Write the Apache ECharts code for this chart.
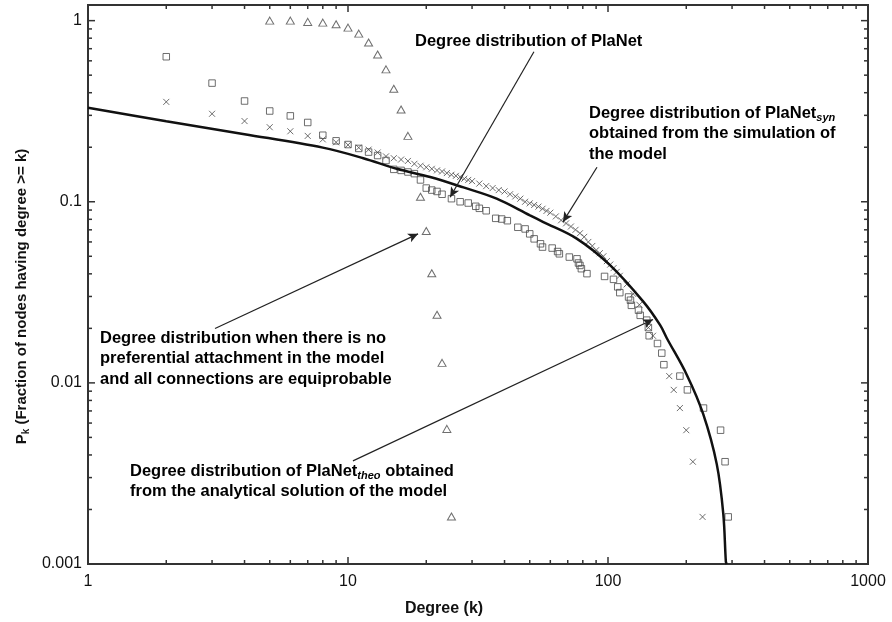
<!DOCTYPE html>
<html>
<head>
<meta charset="utf-8">
<script src="https://cdn.jsdelivr.net/npm/echarts@6/dist/echarts.min.js"></script>
<style>
html,body{margin:0;padding:0;background:#fff;}
#chart{width:892px;height:622px;}
</style>
</head>
<body>
<div id="chart"></div>
<script>
// ---- Data ----
// PlaNet (squares)
const degPlaNet = [2,3,4,5,6,7,8,9,10,11,12,13,14,15,16,17,18,19,20,21,22,23,25,27,29,31,32,34,37,39,41,45,48,50,52,55,56,61,64,65,71,76,77,78,79,83,97,105,109,111,120,122,123,131,133,141,143,144,155,161,164,189,202,233,271,282,290];
const pPlaNet = [0.632,0.452,0.36,0.317,0.298,0.274,0.233,0.217,0.207,0.197,0.188,0.18,0.169,0.151,0.149,0.146,0.143,0.132,0.119,0.116,0.114,0.11,0.104,0.1,0.0984,0.0944,0.092,0.0892,0.081,0.0803,0.0786,0.0723,0.0708,0.0665,0.0624,0.0586,0.0562,0.0555,0.0531,0.0516,0.0495,0.0484,0.0459,0.0445,0.0427,0.0401,0.0387,0.0373,0.0339,0.0315,0.0298,0.0286,0.0268,0.0252,0.0236,0.0222,0.0202,0.0182,0.0165,0.0146,0.0126,0.0109,0.00915,0.00726,0.00548,0.00367,0.00182];

// PlaNet_syn (crosses)
const degSyn = [2,3,4,5,6,7,8,9,10,11,12,13,14,15,16,17,18,19,20,21,22,23,24,25,26,27,28,29,30,32,34,36,38,40,42,44,46,48,50,52,54,56,58,60,63,66,69,72,75,78,81,84,87,90,93,96,99,102,105,108,111,118,125,132,143,149,172,179,189,200,212,231];
const pSyn = [0.356,0.306,0.279,0.258,0.245,0.231,0.221,0.213,0.206,0.199,0.194,0.187,0.178,0.174,0.171,0.168,0.162,0.158,0.155,0.152,0.149,0.147,0.144,0.141,0.139,0.137,0.134,0.132,0.130,0.126,0.122,0.119,0.116,0.114,0.110,0.107,0.104,0.100,0.098,0.096,0.094,0.0915,0.089,0.087,0.083,0.079,0.076,0.073,0.070,0.067,0.064,0.060,0.057,0.054,0.052,0.050,0.047,0.045,0.043,0.041,0.039,0.035,0.031,0.027,0.0202,0.0182,0.0109,0.00915,0.00726,0.00548,0.00367,0.00182];

// No preferential attachment (triangles)
const degNoPA = [5,6,7,8,9,10,11,12,13,14,15,16,17,19,20,21,22,23,24,25];
const pNoPA = [1.0,1.0,0.984,0.975,0.955,0.915,0.848,0.757,0.650,0.538,0.421,0.323,0.231,0.1065,0.0689,0.0403,0.0238,0.0129,0.00557,0.00183];

// PlaNet_theo (analytical solution, solid line)
const degTheo = [1,2,4,8,11.45,15.4,20.7,27.8,37.3,50.1,56.4,75.8,101.8,136.7,158.5,168.2,200.8,232.6,262,277.6,284,286];
const pTheo = [0.330,0.278,0.236,0.199,0.174,0.152,0.137,0.120,0.104,0.0841,0.0773,0.0626,0.0447,0.0281,0.0209,0.0177,0.0111,0.0067,0.00356,0.00189,0.00103,0.001];

// Tick values
const xMajorTicks = [10,100];
const xMinorTicks = [2,3,4,5,6,7,8,9,20,30,40,50,60,70,80,90,200,300,400,500,600,700,800,900];
const yMajorTicks = [0.01,0.1,1];
const yMinorTicks = [0.002,0.003,0.004,0.005,0.006,0.007,0.008,0.009,0.02,0.03,0.04,0.05,0.06,0.07,0.08,0.09,0.2,0.3,0.4,0.5,0.6,0.7,0.8,0.9];

// Annotation arrows [fromK, fromP, toK, toP]
const arrows = [
  [51.9, 0.673, 24.7, 0.106],
  [90.7, 0.155, 67.1, 0.0774],
  [3.08, 0.01998, 18.6, 0.0665],
  [10.45, 0.00371, 149, 0.0224]
];

// ---- Chart ----
const zip = (a, b) => a.map((v, i) => [v, b[i]]);
const FONT = '"Liberation Sans", Arial, Helvetica, sans-serif';
const AX = '#333';

function tickSeries(values, isX, len) {
  return {
    type: 'custom',
    silent: true,
    clip: false,
    z: 5,
    data: values.map(v => isX ? [v, 1] : [1, v]),
    renderItem: function (params, api) {
      const cs = params.coordSys;
      const st = { stroke: AX, lineWidth: 1.5 };
      if (isX) {
        const px = api.coord([api.value(0), 1])[0];
        const yb = cs.y + cs.height, yt = cs.y;
        return { type: 'group', children: [
          { type: 'line', shape: { x1: px, y1: yb, x2: px, y2: yb - len }, style: st },
          { type: 'line', shape: { x1: px, y1: yt, x2: px, y2: yt + len }, style: st }
        ]};
      } else {
        const py = api.coord([1, api.value(1)])[1];
        const xl = cs.x, xr = cs.x + cs.width;
        return { type: 'group', children: [
          { type: 'line', shape: { x1: xl, y1: py, x2: xl + len, y2: py }, style: st },
          { type: 'line', shape: { x1: xr, y1: py, x2: xr - len, y2: py }, style: st }
        ]};
      }
    }
  };
}

function powLabel(v) {
  const e = Math.log10(v);
  const r = Math.round(e);
  if (Math.abs(e - r) > 1e-6) return '';
  if (r >= 0) return String(Math.pow(10, r));
  return '0.' + '0'.repeat(-r - 1) + '1';
}

const chart = echarts.init(document.getElementById('chart'), null, { renderer: 'canvas' });

const textStyleMain = { fontFamily: FONT, fontWeight: 'bold', fontSize: 16.5, lineHeight: 20.5, color: '#1a1a1a' };
const subStyle = { fontFamily: FONT, fontWeight: 'bold', fontStyle: 'italic', fontSize: 11, lineHeight: 12, verticalAlign: 'bottom', color: '#1a1a1a' };

chart.setOption({
  animation: false,
  backgroundColor: '#fff',
  grid: { left: 88, right: 24, top: 5, bottom: 55, show: true, borderColor: AX, borderWidth: 2, backgroundColor: 'transparent' },
  xAxis: {
    type: 'log', logBase: 10, min: 1, max: 1000,
    axisLine: { show: false }, axisTick: { show: false }, splitLine: { show: false },
    axisLabel: { formatter: powLabel, fontFamily: FONT, fontSize: 16, color: '#111', margin: 10 },
    name: 'Degree (k)', nameLocation: 'middle', nameGap: 37,
    nameTextStyle: { fontFamily: FONT, fontWeight: 'bold', fontSize: 16, color: '#111', padding: [0, 68, 0, 0] }
  },
  yAxis: {
    type: 'log', logBase: 10, min: 0.001, max: 1.22,
    axisLine: { show: false }, axisTick: { show: false }, splitLine: { show: false },
    axisLabel: { formatter: powLabel, fontFamily: FONT, fontSize: 16, color: '#111', margin: 6 },
    name: '{p|P}{k|k}{p| (Fraction of nodes having degree >= k)}',
    nameLocation: 'middle', nameGap: 53, nameRotate: 90,
    nameTextStyle: {
      padding: [0, 24, 0, 0],
      rich: {
        p: { fontFamily: FONT, fontWeight: 'bold', fontSize: 15, color: '#111', lineHeight: 18 },
        k: { fontFamily: FONT, fontWeight: 'bold', fontSize: 10, color: '#111', lineHeight: 18, verticalAlign: 'bottom' }
      }
    }
  },
  series: [
    {
      name: 'PlaNet_theo', type: 'line', data: zip(degTheo, pTheo),
      showSymbol: false, smooth: 0.35, z: 3,
      lineStyle: { color: '#111', width: 2.5 },
      markLine: {
        silent: true, animation: false,
        symbol: ['none', 'arrow'], symbolSize: [7, 10],
        label: { show: false },
        lineStyle: { color: '#222', width: 1.2, type: 'solid' },
        data: arrows.map(a => [{ coord: [a[0], a[1]] }, { coord: [a[2], a[3]] }])
      }
    },
    {
      name: 'PlaNet', type: 'scatter', data: zip(degPlaNet, pPlaNet), z: 2,
      symbol: 'rect', symbolSize: 6.5,
      itemStyle: { color: 'rgba(255,255,255,0)', borderColor: '#4a4a4a', borderWidth: 1 }
    },
    {
      name: 'PlaNet_syn', type: 'scatter', data: zip(degSyn, pSyn), z: 2,
      symbol: 'path://M0,0L10,10M10,0L0,10', symbolSize: 6,
      itemStyle: { color: 'rgba(255,255,255,0)', borderColor: '#4a4a4a', borderWidth: 1 }
    },
    {
      name: 'No preferential attachment', type: 'scatter', data: zip(degNoPA, pNoPA), z: 2,
      symbol: 'triangle', symbolSize: [8, 7],
      itemStyle: { color: 'rgba(255,255,255,0)', borderColor: '#4a4a4a', borderWidth: 1 }
    },
    tickSeries(xMinorTicks, true, 4),
    tickSeries(xMajorTicks, true, 7),
    tickSeries(yMinorTicks, false, 4),
    tickSeries(yMajorTicks, false, 7)
  ],
  graphic: [
    { type: 'text', x: 415, y: 31, silent: true,
      style: { text: '{a|Degree distribution of PlaNet}', rich: { a: textStyleMain } } },
    { type: 'text', x: 589, y: 103, silent: true,
      style: { text: '{a|Degree distribution of PlaNet}{s|syn}\n{a|obtained from the simulation of}\n{a|the model}', rich: { a: textStyleMain, s: subStyle } } },
    { type: 'text', x: 100, y: 328, silent: true,
      style: { text: '{a|Degree distribution when there is no}\n{a|preferential attachment in the model}\n{a|and all connections are equiprobable}', rich: { a: textStyleMain } } },
    { type: 'text', x: 130, y: 461, silent: true,
      style: { text: '{a|Degree distribution of PlaNet}{s|theo}{a| obtained}\n{a|from the analytical solution of the model}', rich: { a: textStyleMain, s: subStyle } } }
  ]
});
</script>
</body>
</html>
